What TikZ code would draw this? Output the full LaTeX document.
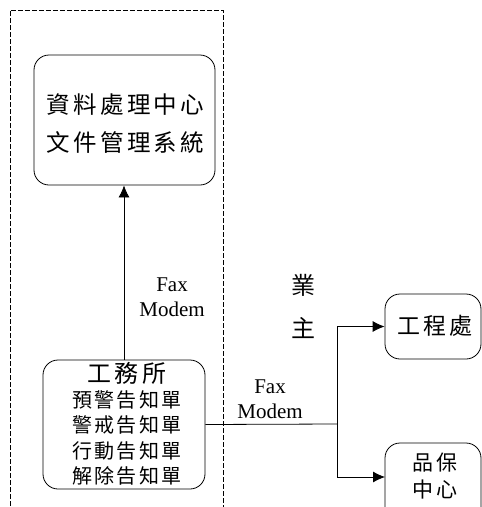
\documentclass[tikz,border=0pt]{standalone}
\usepackage{fontspec}
\setmainfont{Liberation Serif}
\newfontfamily\cjk{Noto Sans CJK TC}
\newfontfamily\cjktitle[LetterSpace=14]{Noto Sans CJK TC}
\newfontfamily\cjklist[LetterSpace=12]{Noto Sans CJK TC}
\newfontfamily\cjkbox[LetterSpace=13]{Noto Sans CJK TC}
\newfontfamily\cjkqa[LetterSpace=16]{Noto Sans CJK TC}
\usetikzlibrary{arrows.meta}
\begin{document}
\begin{tikzpicture}[x=1pt,y=-1pt,
  box/.style={draw,line width=0.8pt,rounded corners=15pt,inner sep=0pt},
  link/.style={line width=0.8pt},
  arr/.style={link,-{Latex[length=12pt,width=11pt]}},
  faxlbl/.style={font=\fontsize{21}{25}\selectfont,align=center,inner sep=0pt}]
\useasboundingbox (0,0) rectangle (482,507);
% dashed frame
\draw[line width=0.7pt,dash pattern=on 5pt off 2pt] (10,520) -- (10,10) -- (223,10) -- (223,520);
% boxes
\node[box,minimum width=181pt,minimum height=130pt] (top) at (124.5,120) {};
\node[box,minimum width=162pt,minimum height=129pt] (gws) at (124,424.5) {};
\node[box,minimum width=96pt,minimum height=65pt] (eng) at (433,326.5) {};
\node[box,minimum width=96pt,minimum height=100pt] (qa) at (433,493) {};
% texts
\node[align=center,inner sep=0pt,font=\cjktitle\fontsize{23.5}{38}\selectfont] (toptxt) at (125.5,124) {資料處理中心\\文件管理系統};
\node[inner sep=0pt,font=\cjktitle\fontsize{24}{27}\selectfont] (gwstitle) at (127,373) {工務所};
\node[align=center,inner sep=0pt,font=\cjklist\fontsize{20}{25.5}\selectfont] (gwslist) at (127,438) {預警告知單\\警戒告知單\\行動告知單\\解除告知單};
\node[inner sep=0pt,font=\cjkbox\fontsize{23}{26}\selectfont] (engtxt) at (435,326) {工程處};
\node[align=center,inner sep=0pt,font=\cjkqa\fontsize{21}{27}\selectfont] (qatxt) at (435,476.5) {品保\\中心};
\node[align=center,inner sep=0pt,font=\cjk\fontsize{24}{43}\selectfont] (owner) at (303,306.5) {業\\主};
\node[faxlbl] (fax1) at (172,297) {Fax\\Modem};
\node[faxlbl] (fax2) at (270,399) {Fax\\Modem};
% connectors
\coordinate (br) at (337,424);
\coordinate (qin) at (385,477);
\draw[arr] (gws.north) -- (gws.north |- top.south);
\draw[link] (gws.east) -- (br);
\draw[arr] (br) |- (eng.west);
\draw[arr] (br) |- (qin);
\end{tikzpicture}
\end{document}
